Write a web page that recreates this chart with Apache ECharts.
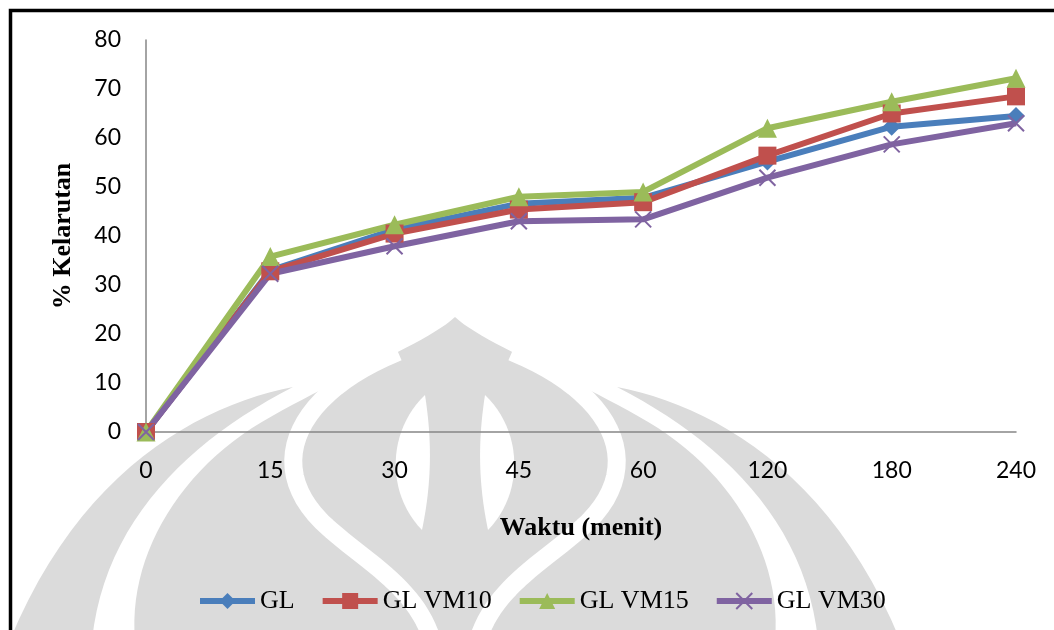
<!DOCTYPE html>
<html>
<head>
<meta charset="utf-8">
<title>% Kelarutan</title>
<script src="https://cdn.jsdelivr.net/npm/echarts@6/dist/echarts.min.js"></script>
<style>
  html, body { margin: 0; padding: 0; background: #ffffff; }
  #chart { width: 1054px; height: 630px; }
</style>
</head>
<body>
<div id="chart"></div>
<script>
// Sampling times (minutes)
const times = ['0', '15', '30', '45', '60', '120', '180', '240'];

// Dissolution (%) per formula
const gl     = [0, 33.0, 41.3, 46.6, 47.8, 55.2, 62.3, 64.5];
const glVM10 = [0, 32.8, 40.5, 45.4, 46.9, 56.4, 65.0, 68.5];
const glVM15 = [0, 35.8, 42.3, 48.0, 49.0, 62.0, 67.4, 72.2];
const glVM30 = [0, 32.3, 37.9, 43.0, 43.4, 51.9, 58.7, 63.0];

const seriesNames = ['GL', 'GL VM10', 'GL VM15', 'GL VM30'];

const chart = echarts.init(document.getElementById('chart'), null, { renderer: 'canvas' });

const tickFont = 'Lato, "Open Sans", sans-serif';
const serifFont = '"Liberation Serif", "DejaVu Serif", serif';
const axisGrey = '#868686';
const markGrey = '#dbdbdb';

// Flatten a start point plus cubic segments [c1x,c1y,c2x,c2y,x,y] (or straight [x,y]) into points.
function curvePoints(start, segs) {
  const pts = [start.slice()];
  let p = start;
  segs.forEach(function (s) {
    if (s.length === 2) { pts.push(s.slice()); p = s; return; }
    for (let i = 1; i <= 24; i++) {
      const t = i / 24, u = 1 - t;
      pts.push([
        u * u * u * p[0] + 3 * u * u * t * s[0] + 3 * u * t * t * s[2] + t * t * t * s[4],
        u * u * u * p[1] + 3 * u * u * t * s[1] + 3 * u * t * t * s[3] + t * t * t * s[5]
      ]);
    }
    p = [s[4], s[5]];
  });
  return pts;
}
function fillShape(start, segs, fill) {
  return { type: 'polygon', shape: { points: curvePoints(start, segs) }, style: { fill: fill } };
}
function strokeShape(start, segs, width) {
  return { type: 'polyline', shape: { points: curvePoints(start, segs) }, style: { fill: null, stroke: '#ffffff', lineWidth: width } };
}

// background emblem
const emblem = [
  fillShape([455, 317], [[425, 345, 330, 380, 252, 428], [175, 478, 128, 560, 135, 640], [775, 640], [782, 560, 735, 478, 658, 428], [580, 380, 485, 345, 455, 317]], markGrey),
  fillShape([293, 387], [[200, 405, 80, 470, 10, 640], [92, 640], [105, 520, 190, 440, 293, 387]], markGrey),
  fillShape([617, 387], [[710, 405, 830, 470, 900, 640], [818, 640], [805, 520, 720, 440, 617, 387]], markGrey),
  strokeShape([398, 352], [[300, 392, 262, 462, 322, 522], [362, 560, 415, 585, 432, 640]], 18),
  strokeShape([512, 352], [[610, 392, 648, 462, 588, 522], [548, 560, 495, 585, 478, 640]], 18),
  fillShape([425, 395], [[388, 430, 385, 492, 422, 530], [432, 482, 432, 440, 425, 395]], '#ffffff'),
  fillShape([485, 395], [[522, 430, 525, 492, 488, 530], [478, 482, 478, 440, 485, 395]], '#ffffff')
];

function lineSeries(name, data, color, symbol, size, extra) {
  return Object.assign({
    name: name,
    type: 'line',
    data: data,
    symbol: symbol,
    symbolSize: size,
    showAllSymbol: true,
    lineStyle: { color: color, width: 6 },
    itemStyle: { color: color },
    emphasis: { disabled: true },
    animation: false
  }, extra || {});
}

const option = {
  backgroundColor: '#ffffff',
  animation: false,
  graphic: [
    { type: 'group', z: -10, silent: true, children: emblem },
    // outer frame
    {
      type: 'rect', z: 100, silent: true,
      shape: { x: 10.5, y: 10.5, width: 1200, height: 800 },
      style: { fill: null, stroke: '#000000', lineWidth: 3.5 }
    }
  ],
  legend: {
    data: seriesNames,
    left: 192,
    top: 583,
    itemWidth: 55,
    itemHeight: 20,
    itemGap: 25,
    lineStyle: { width: 6 },
    textStyle: { fontFamily: serifFont, fontSize: 26, color: '#000000' }
  },
  grid: { left: 146, right: 38, top: 40, bottom: 198, containLabel: false },
  xAxis: {
    type: 'category',
    data: times,
    boundaryGap: false,
    axisLine: { show: true, lineStyle: { color: axisGrey, width: 1.5 } },
    axisTick: { show: false },
    axisLabel: { fontFamily: tickFont, fontSize: 23, color: '#000000', margin: 27 },
    splitLine: { show: false },
    name: 'Waktu (menit)',
    nameLocation: 'middle',
    nameGap: 83,
    nameTextStyle: { fontFamily: serifFont, fontSize: 26, fontWeight: 'bold', color: '#000000' }
  },
  yAxis: {
    type: 'value',
    min: 0,
    max: 80,
    interval: 10,
    axisLine: { show: true, lineStyle: { color: axisGrey, width: 1.5 } },
    axisTick: { show: false },
    axisLabel: { fontFamily: tickFont, fontSize: 23, color: '#000000', margin: 25 },
    splitLine: { show: false },
    name: '% Kelarutan',
    nameLocation: 'middle',
    nameGap: 70,
    nameRotate: 90,
    nameTextStyle: { fontFamily: serifFont, fontSize: 26, fontWeight: 'bold', color: '#000000' }
  },
  series: [
    lineSeries('GL', gl, '#4a7ebb', 'diamond', 18),
    lineSeries('GL VM10', glVM10, '#c0504d', 'rect', 18),
    lineSeries('GL VM15', glVM15, '#9bbb59', 'triangle', 19),
    lineSeries('GL VM30', glVM30, '#7f63a1', 'path://M0,0L10,10M10,0L0,10', 16, {
      itemStyle: { color: '#7f63a1', borderColor: '#7f63a1', borderWidth: 2 }
    })
  ]
};

chart.setOption(option);
</script>
</body>
</html>
